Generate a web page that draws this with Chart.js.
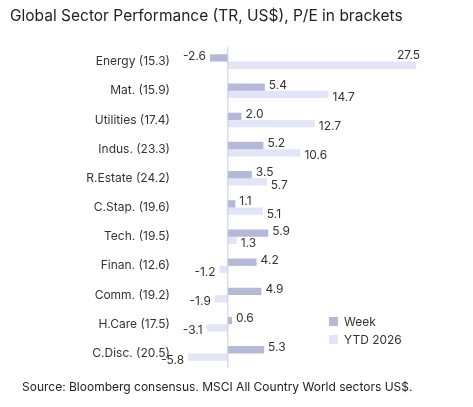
<!DOCTYPE html>
<html><head><meta charset="utf-8">
<script src="https://cdn.jsdelivr.net/npm/chart.js@4"></script>
<style>
body{margin:0;width:473px;height:407px;background:#fff;font-family:Inter,sans-serif;position:relative;overflow:hidden}
#wrap{position:absolute;left:0;top:0;width:473px;height:407px}
.t{position:absolute;color:#222;white-space:nowrap}
.lg{position:absolute;font-size:12px;color:#333;display:flex;align-items:center}
.lg span{display:inline-block;width:9px;height:9px;margin-right:6px}
</style></head><body>
<div id="wrap"><canvas id="c" width="473" height="407"></canvas></div>
<div class="t" style="left:10px;top:6px;font-size:15.5px;">Global Sector Performance (TR, US$), P/E in brackets</div>
<div class="t" style="left:22px;top:379px;font-size:12px;">Source: Bloomberg consensus. MSCI All Country World sectors US$.</div>
<div class="lg" style="left:329px;top:314px"><span style="background:#B3B9D6"></span>Week</div>
<div class="lg" style="left:329px;top:332px"><span style="background:#E1E5F7"></span>YTD 2026</div>
<script>
const categories=["Energy (15.3)","Mat. (15.9)","Utilities (17.4)","Indus. (23.3)","R.Estate (24.2)","C.Stap. (19.6)","Tech. (19.5)","Finan. (12.6)","Comm. (19.2)","H.Care (17.5)","C.Disc. (20.5)"];
const week=[-2.6,5.4,2.0,5.2,3.5,1.1,5.9,4.2,4.9,0.6,5.3];
const ytd=[27.5,14.7,12.7,10.6,5.7,5.1,1.3,-1.2,-1.9,-3.1,-5.8];
const labelPlugin={id:'lbl',afterDatasetsDraw(ch){
 const ctx=ch.ctx;ctx.save();ctx.font='12px Inter, sans-serif';ctx.fillStyle='#333';ctx.textBaseline='middle';
 const right=ch.chartArea.right;
 ch.data.datasets.forEach((ds,di)=>{ch.getDatasetMeta(di).data.forEach((b,i)=>{
  const v=ds.data[i];const s=v.toFixed(1);const dy=(di===0?-2:3);
  if(v>=0){
   if(b.x+30>right){ctx.textAlign='right';ctx.fillText(s,b.x+4,b.y-10);}
   else{ctx.textAlign='left';ctx.fillText(s,b.x+4,b.y+dy);}
  } else {ctx.textAlign='right';ctx.fillText(s,b.x-4,b.y+dy);}
 });});ctx.restore();}};
new Chart(document.getElementById('c'),{type:'bar',
data:{labels:categories,datasets:[
 {label:'Week',data:week,backgroundColor:'#B3B9D6',categoryPercentage:0.5,barPercentage:1},
 {label:'YTD 2026',data:ytd,backgroundColor:'#E1E5F7',categoryPercentage:0.5,barPercentage:1}]},
options:{indexAxis:'y',responsive:false,animation:false,
 layout:{padding:{left:0,right:50,top:47,bottom:39}},
 plugins:{legend:{display:false},tooltip:{enabled:false}},
 scales:{
  x:{min:-6.4,max:28.5,display:true,grid:{display:false,drawTicks:false},border:{display:false},ticks:{display:false}},
  y:{grid:{display:false},border:{display:false},ticks:{color:'#333',font:{size:12,family:'Inter'},padding:6},
     afterFit(s){s.width=184;}}
 }},
plugins:[labelPlugin,{id:'zero',afterDatasetsDraw(ch){const x=ch.scales.x.getPixelForValue(0);const a=ch.chartArea;const c=ch.ctx;c.save();c.strokeStyle='#C5CDEA';c.lineWidth=1;c.beginPath();c.moveTo(x,a.top);c.lineTo(x,a.bottom);c.stroke();c.restore();}}]
});
</script></body></html>
